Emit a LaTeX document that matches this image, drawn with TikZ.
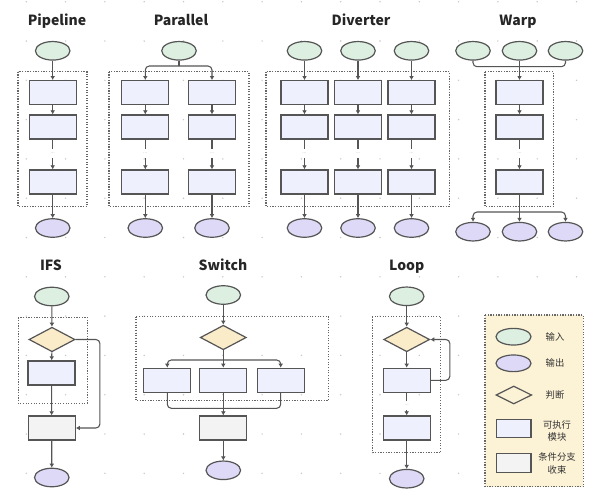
\documentclass[tikz,border=0pt]{standalone}
\usepackage{fontspec}
\setmainfont{Noto Sans}
\newfontfamily\cjk{Noto Sans CJK SC}
\usetikzlibrary{shapes.geometric,arrows.meta,calc}
\definecolor{bordc}{HTML}{555555}
\definecolor{grpc}{HTML}{666666}
\definecolor{ingreen}{HTML}{DCEFE1}
\definecolor{outpurple}{HTML}{DDD9F6}
\definecolor{blkblue}{HTML}{EEF0FD}
\definecolor{judgey}{HTML}{FAEBC9}
\definecolor{cvggray}{HTML}{F3F3F3}
\definecolor{lgdbg}{HTML}{FCF2D6}
\definecolor{gridc}{HTML}{C8C8C8}
\tikzset{
  inp/.style={ellipse, draw=bordc, fill=ingreen, line width=0.9pt, minimum width=25.9pt, minimum height=13.9pt, inner sep=0pt},
  outp/.style={inp, fill=outpurple},
  blk/.style={rectangle, draw=bordc, fill=blkblue, line width=1pt, minimum width=35.25pt, minimum height=18pt, inner sep=0pt},
  cvg/.style={blk, fill=cvggray},
  judge/.style={diamond, draw=bordc, fill=judgey, line width=0.9pt, minimum width=34.5pt, minimum height=18.4pt, inner sep=0pt},
  grp/.style={draw=grpc, line width=0.8pt, dash pattern=on 0.9pt off 1.1pt},
  conn/.style={draw=bordc, line width=0.8pt},
  arr/.style={conn, -{Latex[length=3pt,width=3.6pt]}},
  rc/.style={rounded corners=3pt},
  gapdots/.style={inner sep=0pt, minimum height=6.75pt, font=\fontsize{4}{4}\selectfont, text=gray!45},
  ttl/.style={font=\cjk\bfseries\fontsize{10.5}{12}\selectfont, anchor=base, text=black!85},
  lgd/.style={font=\cjk\fontsize{7}{9.2}\selectfont, align=center, text=black!80},
}
\begin{document}
\begin{tikzpicture}[x=0.75pt,y=-0.75pt]
\fill[white] (0,0) rectangle (607,500);
\useasboundingbox (0,0) rectangle (607,500);
% grid dots
\foreach \i in {0,...,14}{\foreach \j in {0,...,12}{\fill[gridc] (26.3+39.3*\i, 1.7+39.3*\j) circle (0.6pt);}}

% ---------- titles
\node[ttl] (t-pipe) at (57,25.5) {Pipeline};
\node[ttl] (t-par) at (181,25.5) {Parallel};
\node[ttl] (t-div) at (361,25.5) {Diverter};
\node[ttl] (t-warp) at (518,25.5) {Warp};
\node[ttl] (t-ifs) at (51,270.5) {IFS};
\node[ttl] (t-sw) at (223,270.5) {Switch};
\node[ttl] (t-loop) at (406.7,270.5) {Loop};

% ---------- group boxes
\draw[grp] (18,71.7) rectangle (87,206.7);
\draw[grp] (109,71.7) rectangle (249,206.7);
\draw[grp] (266,71.7) rectangle (449.3,206.7);
\draw[grp] (485,71.7) rectangle (553.3,206.7);
\draw[grp] (18.3,317.3) rectangle (87.3,403.3);
\draw[grp] (136,316.5) rectangle (328.5,400.7);
\draw[grp] (372.3,316.7) rectangle (440.7,452.7);

% ---------- Pipeline
\node[inp] (pl-in) at (52.7,50.8) {};
\node[blk] (pl-1) at (52.7,92.7) {};
\node[blk] (pl-2) at (52.7,127) {};
\node[gapdots] (pl-g) at (52.7,153.5) {...};
\node[blk] (pl-3) at (52.7,182) {};
\node[outp] (pl-out) at (52.7,228) {};
\draw[arr] (pl-in) -- (pl-1);
\draw[arr] (pl-1) -- (pl-2);
\draw[conn] (pl-2.south) -- (pl-g.north);
\draw[arr] (pl-g.south) -- (pl-3.north);
\draw[arr] (pl-3) -- (pl-out);

% ---------- Parallel
\node[inp] (pa-in) at (179,50.8) {};
\coordinate (pa-j) at (179,66);
\foreach \c/\x in {a/145.3,b/212}{
  \node[blk] (pa-\c1) at (\x,92.7) {};
  \node[blk] (pa-\c2) at (\x,127) {};
  \node[gapdots] (pa-\c g) at (\x,153.5) {...};
  \node[blk] (pa-\c3) at (\x,182) {};
  \node[outp] (pa-\c out) at (\x,228) {};
  \draw[arr,rc] (pa-j) -| (pa-\c1.north);
  \draw[arr] (pa-\c1) -- (pa-\c2);
  \draw[conn] (pa-\c2.south) -- (pa-\c g.north);
  \draw[arr] (pa-\c g.south) -- (pa-\c3.north);
  \draw[arr] (pa-\c3) -- (pa-\c out);
}
\draw[conn] (pa-in.south) -- (pa-j);

% ---------- Diverter
\foreach \c/\x in {a/304.5,b/358,c/411.5}{
  \node[inp] (dv-\c in) at (\x,50.8) {};
  \node[blk] (dv-\c1) at (\x,92.7) {};
  \node[blk] (dv-\c2) at (\x,127) {};
  \node[gapdots] (dv-\c g) at (\x,153.5) {...};
  \node[blk] (dv-\c3) at (\x,182) {};
  \node[outp] (dv-\c out) at (\x,228) {};
  \draw[arr] (dv-\c in) -- (dv-\c1);
  \draw[arr] (dv-\c1) -- (dv-\c2);
  \draw[conn] (dv-\c2.south) -- (dv-\c g.north);
  \draw[arr] (dv-\c g.south) -- (dv-\c3.north);
  \draw[arr] (dv-\c3) -- (dv-\c out);
}

% ---------- Warp
\node[inp] (wp-in1) at (473,50.8) {};
\node[inp] (wp-in2) at (519.5,50.8) {};
\node[inp] (wp-in3) at (565.5,50.8) {};
\coordinate (wp-j) at (519.5,66.7);
\node[blk] (wp-1) at (519.5,92.7) {};
\node[blk] (wp-2) at (519.5,127) {};
\node[gapdots] (wp-g) at (519.5,153.5) {...};
\node[blk] (wp-3) at (519.5,182) {};
\coordinate (wp-k) at (519.5,212);
\node[outp] (wp-out1) at (473,231.7) {};
\node[outp] (wp-out2) at (519.5,231.7) {};
\node[outp] (wp-out3) at (565.5,231.7) {};
\draw[conn,rc] (wp-in1.south) |- (wp-j);
\draw[conn,rc] (wp-in3.south) |- (wp-j);
\draw[conn] (wp-in2.south) -- (wp-j);
\draw[arr] (wp-j) -- (wp-1.north);
\draw[arr] (wp-1) -- (wp-2);
\draw[conn] (wp-2.south) -- (wp-g.north);
\draw[arr] (wp-g.south) -- (wp-3.north);
\draw[conn] (wp-3.south) -- (wp-k);
\draw[arr,rc] (wp-k) -| (wp-out1.north);
\draw[arr,rc] (wp-k) -| (wp-out3.north);
\draw[arr] (wp-k) -- (wp-out2.north);

% ---------- IFS
\node[inp] (if-in) at (51.8,296.5) {};
\node[judge] (if-j) at (52,339.5) {};
\node[blk] (if-b) at (51.5,373) {};
\node[cvg] (if-c) at (51.7,428) {};
\node[outp] (if-out) at (51.8,477.5) {};
\draw[arr] (if-in) -- (if-j);
\draw[arr] (if-j) -- (if-b);
\draw[arr] (if-b) -- (if-c);
\draw[arr] (if-c) -- (if-out);
\draw[arr,rc] (if-j.east) -- ++(24.3,0) |- (if-c.east);

% ---------- Switch
\node[inp] (sw-in) at (223.3,295) {};
\node[judge] (sw-j) at (223.3,337.5) {};
\coordinate (sw-s) at (223.3,360);
\node[blk] (sw-1) at (167.3,380.3) {};
\node[blk] (sw-2) at (223.3,380.3) {};
\node[blk] (sw-3) at (280.7,380.3) {};
\coordinate (sw-k) at (223.3,408.3);
\node[cvg] (sw-c) at (223.3,428) {};
\node[outp] (sw-out) at (223.3,470.3) {};
\draw[arr] (sw-in) -- (sw-j);
\draw[conn] (sw-j.south) -- (sw-s);
\draw[arr,rc] (sw-s) -| (sw-1.north);
\draw[arr,rc] (sw-s) -| (sw-3.north);
\draw[arr] (sw-s) -- (sw-2.north);
\draw[conn,rc] (sw-1.south) |- (sw-k);
\draw[conn,rc] (sw-3.south) |- (sw-k);
\draw[conn] (sw-2.south) -- (sw-k);
\draw[arr] (sw-k) -- (sw-c.north);
\draw[arr] (sw-c) -- (sw-out);

% ---------- Loop
\node[inp] (lp-in) at (406.7,296.3) {};
\node[judge] (lp-j) at (406.7,339.5) {};
\node[blk] (lp-1) at (406.7,380.3) {};
\node[gapdots] (lp-g) at (406.7,405.5) {...};
\node[blk] (lp-2) at (406.7,428) {};
\node[outp] (lp-out) at (406.7,478.7) {};
\draw[arr] (lp-in) -- (lp-j);
\draw[arr] (lp-j) -- (lp-1);
\draw[conn] (lp-1.south) -- (lp-g.north);
\draw[arr] (lp-g.south) -- (lp-2.north);
\draw[arr] (lp-2) -- (lp-out);
\draw[arr,rc] (lp-1.east) -- ++(19,0) |- (lp-j.east);

% ---------- Legend
\draw[grp, fill=lgdbg] (485,315) rectangle (583.3,486.7);
\node[inp, minimum width=26.25pt, minimum height=12.5pt] (lg-in) at (513.5,336.7) {};
\node[lgd] (lg-in-t) at (555,336.7) {输入};
\node[outp, minimum width=26.25pt, minimum height=12.5pt] (lg-out) at (513.5,363.3) {};
\node[lgd] (lg-out-t) at (555,363.3) {输出};
\node[judge, fill=none, minimum width=26.8pt, minimum height=13.5pt] (lg-j) at (513.8,395) {};
\node[lgd] (lg-j-t) at (555,395) {判断};
\node[blk, minimum width=25.7pt, minimum height=13.5pt] (lg-b) at (513.8,428.3) {};
\node[lgd] (lg-b-t) at (557,431) {可执行\\模块};
\node[cvg, minimum width=25.7pt, minimum height=14.5pt] (lg-c) at (513.8,463) {};
\node[lgd] (lg-c-t) at (557,463.5) {条件分支\\收束};
\end{tikzpicture}
\end{document}
